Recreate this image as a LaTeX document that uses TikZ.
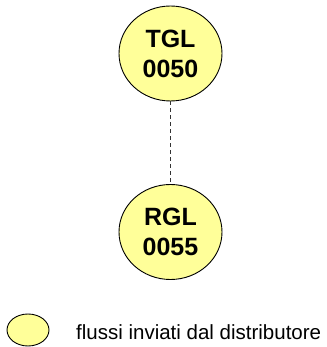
\documentclass[tikz,border=0pt]{standalone}
\usepackage{fontspec}
\setmainfont{Liberation Sans}
\usetikzlibrary{shapes.geometric}
\definecolor{flowyellow}{HTML}{FFFF99}
\tikzset{
  flow/.style={ellipse, draw=black, line width=0.9pt, fill=flowyellow,
    minimum width=103pt, minimum height=95pt, inner sep=0pt,
    font=\fontsize{25}{30}\selectfont\bfseries, align=center},
  legendflow/.style={ellipse, draw=black, line width=0.9pt, fill=flowyellow,
    minimum width=42pt, minimum height=32pt, inner sep=0pt},
  link/.style={draw=black!80, line width=1pt, dash pattern=on 4pt off 3pt}
}
\begin{document}
\begin{tikzpicture}[x=1pt,y=1pt]
\useasboundingbox (0,0) rectangle (326,347);
\node[flow] (tgl) at (170.5,293.5) {TGL\\0050};
\node[flow] (rgl) at (170.5,115) {RGL\\0055};
\draw[link] (tgl) -- (rgl);
\node[legendflow] (leg) at (28,17) {};
\node[anchor=base west, inner sep=0pt, font=\fontsize{20.5}{24}\selectfont] (legtext) at (76,7) {flussi inviati dal distributore};
\end{tikzpicture}
\end{document}
